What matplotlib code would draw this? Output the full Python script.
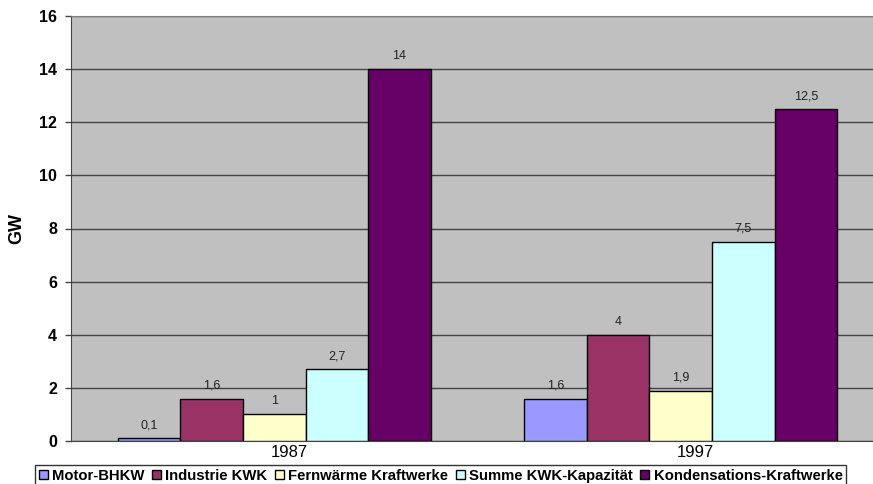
import matplotlib
matplotlib.use("Agg")
import matplotlib.pyplot as plt
import numpy as np
from matplotlib.transforms import ScaledTranslation

plt.rcParams['font.family'] = ['Liberation Sans', 'DejaVu Sans']

years = ["1987", "1997"]
series = ["Motor-BHKW", "Industrie KWK", "Fernwärme Kraftwerke",
          "Summe KWK-Kapazität", "Kondensations-Kraftwerke"]
values = {
    "Motor-BHKW": [0.1, 1.6],
    "Industrie KWK": [1.6, 4.0],
    "Fernwärme Kraftwerke": [1.0, 1.9],
    "Summe KWK-Kapazität": [2.7, 7.5],
    "Kondensations-Kraftwerke": [14.0, 12.5],
}
colors = ["#9999FF", "#993366", "#FFFFCC", "#CCFFFF", "#660066"]
yticks = [0, 2, 4, 6, 8, 10, 12, 14, 16]

W, H = 873, 484
fig = plt.figure(figsize=(W / 100, H / 100), dpi=100)
left, right, top, bottom = 71, 884, 16, 441
ax = fig.add_axes([left / W, 1 - bottom / H, (right - left) / W, (bottom - top) / H])
ax.set_facecolor("#C0C0C0")

x = np.arange(len(years))
bw = 0.154
n = len(series)
for i, s in enumerate(series):
    pos = x + (i - (n - 1) / 2) * bw
    ax.bar(pos, values[s], width=bw, color=colors[i], edgecolor="black",
           linewidth=1.0, label=s, zorder=3)
    for xb, v in zip(pos, values[s]):
        lab = f"{v:g}".replace(".", ",")
        ax.annotate(lab, (xb, v), xytext=(0, 5), textcoords="offset points",
                    ha="center", va="bottom", fontsize=9, color="#222222", zorder=4)

ax.set_xlim(-0.5, 1.5)
ax.set_ylim(0, 16)
ax.set_yticks(yticks)
ax.set_yticklabels([str(t) for t in yticks], fontsize=11.5, fontweight="bold")
ax.yaxis.grid(True, color="#444444", linewidth=1.0, zorder=1)
ax.set_axisbelow(True)
ax.tick_params(axis="y", direction="out", length=4, width=1, color="#444444", pad=6)
ax.set_xticks(x)
ax.set_xticklabels(years, fontsize=12)
ax.tick_params(axis="x", length=0, pad=3)
offset = ScaledTranslation(15 / 100, 0, fig.dpi_scale_trans)
for lbl in ax.get_xticklabels():
    lbl.set_transform(lbl.get_transform() + offset)
ax.set_ylabel("GW", fontsize=13, fontweight="bold")
ax.yaxis.set_label_coords(-(71 - 25) / (right - left), 0.5)

for sp in ["top", "right"]:
    ax.spines[sp].set_color("#808080")
ax.spines["left"].set_color("#444444")
ax.spines["bottom"].set_color("#444444")

leg = fig.legend(loc="upper left", bbox_to_anchor=(35 / W, 1 - 465 / H), ncol=5,
                 frameon=True, fancybox=False, edgecolor="black",
                 prop={"weight": "bold", "size": 10.7}, handlelength=0.6,
                 handleheight=0.6, handletextpad=0.3, columnspacing=0.5,
                 borderpad=0.25, borderaxespad=0)
leg.get_frame().set_linewidth(1.0)

fig.savefig("out.png", dpi=100)
